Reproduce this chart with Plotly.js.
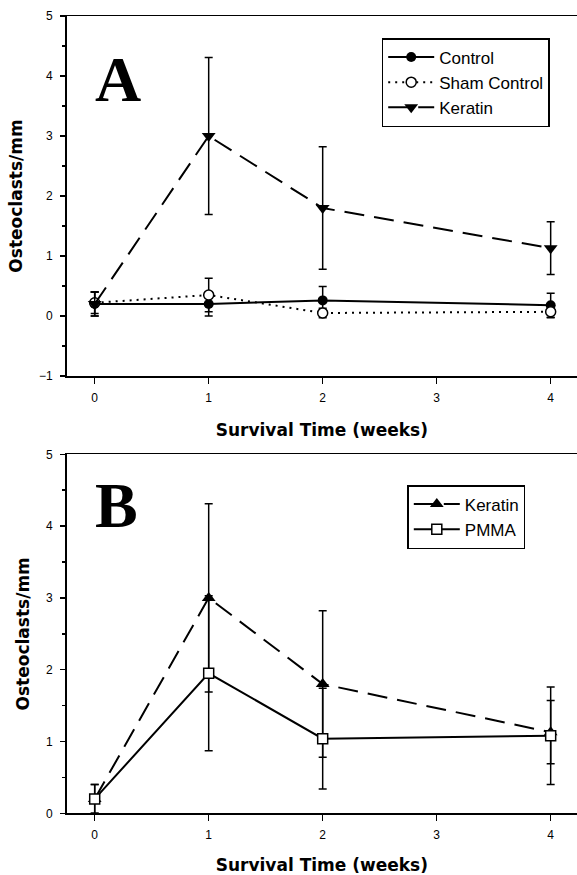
<!DOCTYPE html>
<html>
<head>
<meta charset="utf-8">
<script src="https://cdn.plot.ly/plotly-3.0.1.min.js"></script>
<style>html,body{margin:0;padding:0;background:#fff;}</style>
</head>
<body>
<div id="chart" style="width:577px;height:875px;"></div>
<script>
// Survival time (weeks)
const weeks = [0, 1, 2, 4];
const xTicks = [0, 1, 2, 3, 4];

// Panel A
const controlA = [0.20, 0.20, 0.26, 0.18];
const controlAErr = [0.20, 0.20, 0.23, 0.20];
const shamA = [0.22, 0.35, 0.05, 0.07];
const shamAErr = [0.18, 0.28, 0.08, 0.10];
const keratinA = [0.20, 3.00, 1.80, 1.13];
const keratinAErr = [0.20, 1.31, 1.02, 0.44];

// Panel B
const keratinB = [0.20, 3.00, 1.80, 1.13];
const keratinBErr = [0.20, 1.31, 1.02, 0.44];
const pmmaB = [0.20, 1.95, 1.04, 1.08];
const pmmaBErr = [0.20, 1.08, 0.70, 0.68];

const W = 577, H = 875;
const px = v => v / W;
const py = v => 1 - v / H;

function err(arr) {
  return {type: 'data', array: arr, visible: true, color: 'black', thickness: 1.5, width: 4};
}

const traces = [
  {x: weeks, y: controlA, name: 'Control', mode: 'lines+markers', xaxis: 'x', yaxis: 'y', legend: 'legend',
   line: {color: 'black', width: 2}, marker: {symbol: 'circle', size: 10, color: 'black'},
   error_y: err(controlAErr)},
  {x: weeks, y: shamA, name: 'Sham Control', mode: 'lines+markers', xaxis: 'x', yaxis: 'y', legend: 'legend',
   line: {color: 'black', width: 2, dash: '2px,5px'},
   marker: {symbol: 'circle', size: 10, color: 'white', line: {color: 'black', width: 1.5}},
   error_y: err(shamAErr)},
  {x: weeks, y: keratinA, name: 'Keratin', mode: 'lines+markers', xaxis: 'x', yaxis: 'y', legend: 'legend',
   line: {color: 'black', width: 2, dash: '20px,10px'},
   marker: {symbol: 'triangle-down', size: 12, color: 'black'},
   error_y: err(keratinAErr)},
  {x: weeks, y: keratinB, name: 'Keratin', mode: 'lines+markers', xaxis: 'x2', yaxis: 'y2', legend: 'legend2',
   line: {color: 'black', width: 2, dash: '20px,10px'},
   marker: {symbol: 'triangle-up', size: 12, color: 'black'},
   error_y: err(keratinBErr)},
  {x: weeks, y: pmmaB, name: 'PMMA', mode: 'lines+markers', xaxis: 'x2', yaxis: 'y2', legend: 'legend2',
   line: {color: 'black', width: 2},
   marker: {symbol: 'square', size: 10, color: 'white', line: {color: 'black', width: 1.5}},
   error_y: err(pmmaBErr)}
];

const tickFont = {family: 'Arial, Liberation Sans', size: 12, color: 'black'};
const titleFont = {family: 'DejaVu Sans', size: 17, color: 'black', weight: 'bold'};

function xAxis(anchor) {
  return {
    domain: [px(66.7), 1], range: [-0.2456, 4.231], anchor: anchor,
    tickvals: xTicks, ticktext: xTicks.map(String),
    ticks: 'outside', ticklen: 6, tickwidth: 1.5, tickcolor: 'black', ticklabelstandoff: 4,
    showline: true, linewidth: 1.5, linecolor: 'black', mirror: true,
    showgrid: false, zeroline: false, tickfont: tickFont,
    title: {text: 'Survival Time (weeks)', font: titleFont, standoff: 20}
  };
}
function yAxis(anchor, dom, rng) {
  return {
    domain: dom, range: rng, anchor: anchor, dtick: 1, tick0: 0,
    ticks: 'outside', ticklen: 5, tickwidth: 1.5, tickcolor: 'black', ticklabelstandoff: 5,
    minor: {dtick: 0.5, tick0: 0, ticks: 'outside', ticklen: 3, tickwidth: 1.5, tickcolor: 'black', showgrid: false},
    showline: true, linewidth: 1.5, linecolor: 'black',
    showgrid: false, zeroline: false, tickfont: tickFont,
    title: {text: 'Osteoclasts/mm', font: titleFont, standoff: 12}
  };
}

const legendCommon = {
  xanchor: 'left', yanchor: 'top', bgcolor: 'white', bordercolor: 'black', borderwidth: 1.5,
  font: {family: 'Arial, Liberation Sans', size: 17, color: 'black'}, itemwidth: 46, tracegroupgap: 0
};

const layout = {
  width: W, height: H, margin: {l: 0, r: 0, t: 0, b: 0},
  paper_bgcolor: 'white', plot_bgcolor: 'white', showlegend: true,
  xaxis: xAxis('y'),
  yaxis: yAxis('x', [py(376), py(16)], [-1, 5]),
  xaxis2: xAxis('y2'),
  yaxis2: yAxis('x2', [py(813.3), py(454.3)], [0, 5]),
  legend: Object.assign({x: px(381.7), y: py(38)}, legendCommon),
  legend2: Object.assign({x: px(407.3), y: py(485)}, legendCommon),
  annotations: [
    {text: 'A', xref: 'paper', yref: 'paper', x: px(93), y: py(80), xanchor: 'left', yanchor: 'middle',
     showarrow: false, font: {family: 'Liberation Serif, Times New Roman', size: 64, color: 'black', weight: 'bold'}},
    {text: 'B', xref: 'paper', yref: 'paper', x: px(93), y: py(505), xanchor: 'left', yanchor: 'middle',
     showarrow: false, font: {family: 'Liberation Serif, Times New Roman', size: 64, color: 'black', weight: 'bold'}}
  ]
};

Plotly.newPlot('chart', traces, layout, {displayModeBar: false, staticPlot: true});
</script>
</body>
</html>
